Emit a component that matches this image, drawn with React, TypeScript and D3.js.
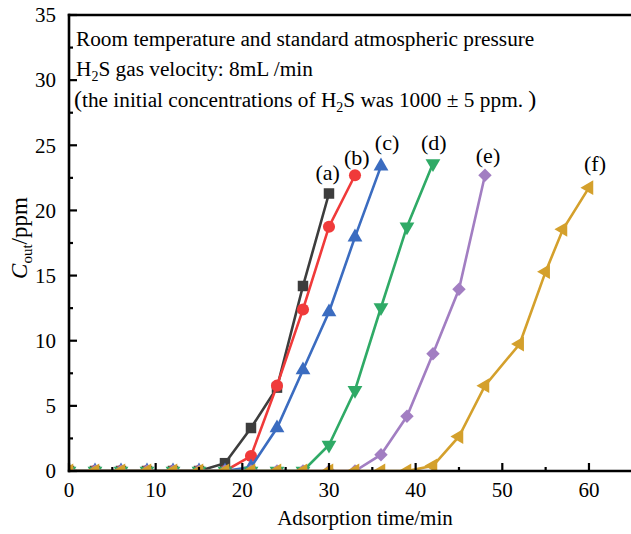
import React from "react";
import * as d3 from "d3";

const W = 631;
const H = 534;

const seriesNames = ["(a)", "(b)", "(c)", "(d)", "(e)", "(f)"];
const seriesColors = ["#3d3d3d", "#f03a3a", "#3b6cc0", "#2faa66", "#a27ec2", "#d4a02c"];
const seriesShapes = ["square", "circle", "up", "down", "diamond", "left"];

const xA = [0, 3, 6, 9, 12, 15, 18, 21, 24, 27, 30];
const yA = [0, 0, 0, 0, 0, 0, 0.6, 3.3, 6.4, 14.2, 21.3];
const xB = [0, 3, 6, 9, 12, 15, 18, 21, 24, 27, 30, 33];
const yB = [0, 0, 0, 0, 0, 0, 0, 1.15, 6.55, 12.4, 18.75, 22.7];
const xC = [0, 3, 6, 9, 12, 15, 18, 21, 24, 27, 30, 33, 36];
const yC = [0, 0, 0, 0, 0, 0, 0, 0.3, 3.3, 7.75, 12.2, 17.95, 23.4];
const xD = [0, 3, 6, 9, 12, 15, 18, 21, 24, 27, 30, 33, 36, 39, 42];
const yD = [0, 0, 0, 0, 0, 0, 0, 0, 0, 0, 2.0, 6.2, 12.55, 18.75, 23.6];
const xE = [0, 3, 6, 9, 12, 15, 18, 21, 24, 27, 30, 33, 36, 39, 42, 45, 48];
const yE = [0, 0, 0, 0, 0, 0, 0, 0, 0, 0, 0, 0, 1.25, 4.2, 9.0, 13.95, 22.7];
const xF = [0, 3, 6, 9, 12, 15, 18, 21, 24, 27, 30, 33, 36, 39, 42, 45, 48, 52, 55, 57, 60];
const yF = [0, 0, 0, 0, 0, 0, 0, 0, 0, 0, 0, 0, 0, 0, 0.4, 2.65, 6.55, 9.75, 15.3, 18.55, 21.75];

const seriesX = [xA, xB, xC, xD, xE, xF];
const seriesY = [yA, yB, yC, yD, yE, yF];

// annotation label anchor positions in data units
const labelX = [29.85, 33.2, 36.7, 42.1, 48.35, 60.7];
const labelY = [22.9, 24.1, 25.2, 25.2, 24.25, 23.6];

const xMajorTicks = [0, 10, 20, 30, 40, 50, 60];
const xMinorTicks = [5, 15, 25, 35, 45, 55];
const yMajorTicks = [0, 5, 10, 15, 20, 25, 30, 35];
const yMinorTicks = [2.5, 7.5, 12.5, 17.5, 22.5, 27.5, 32.5];

const xDomain = [0, 65];
const yDomain = [0, 35];

const FONT = "'Liberation Serif', 'Times New Roman', serif";

function markerPath(shape: string): { d: string; rot: number } {
  if (shape === "square") return { d: d3.symbol(d3.symbolSquare, 110)() as string, rot: 0 };
  if (shape === "circle") return { d: d3.symbol(d3.symbolCircle, 115)() as string, rot: 0 };
  if (shape === "up") return { d: d3.symbol(d3.symbolTriangle, 95)() as string, rot: 0 };
  if (shape === "down") return { d: d3.symbol(d3.symbolTriangle, 95)() as string, rot: 180 };
  if (shape === "diamond") return { d: d3.symbol(d3.symbolSquare, 90)() as string, rot: 45 };
  return { d: d3.symbol(d3.symbolTriangle, 95)() as string, rot: -90 };
}

export default function App() {
  const left = 69;
  const right = 632.3;
  const top = 15;
  const bottom = 471;
  const x = d3.scaleLinear().domain(xDomain).range([left, right]);
  const y = d3.scaleLinear().domain(yDomain).range([bottom, top]);
  const line = d3
    .line<[number, number]>()
    .x((d) => x(d[0]))
    .y((d) => y(d[1]));

  return (
    <svg
      width={W}
      height={H}
      style={{ position: "absolute", left: 0, top: 0, background: "#fff" }}
      fontFamily={FONT}
    >
      <defs>
        <clipPath id="plotclip">
          <rect x={left} y={top} width={right - left} height={bottom - top} />
        </clipPath>
      </defs>
      <rect x={0} y={0} width={W} height={H} fill="#fff" />

      <g clipPath="url(#plotclip)">
        {seriesX.map((xs, i) => {
          const pts: [number, number][] = xs.map((v, j) => [v, seriesY[i][j]]);
          const m = markerPath(seriesShapes[i]);
          return (
            <g key={i}>
              <path d={line(pts) as string} fill="none" stroke={seriesColors[i]} strokeWidth={2.6} />
              {pts.map((p, j) => (
                <path
                  key={j}
                  d={m.d}
                  transform={`translate(${x(p[0])},${y(p[1])}) rotate(${m.rot})`}
                  fill={seriesColors[i]}
                />
              ))}
            </g>
          );
        })}
      </g>

      {/* axes frame */}
      <line x1={left} x2={left} y1={top - 1.2} y2={bottom + 1.2} stroke="#000" strokeWidth={2.6} />
      <line x1={left - 1.2} x2={W} y1={bottom} y2={bottom} stroke="#000" strokeWidth={2.6} />
      <line x1={left - 1.2} x2={W} y1={top} y2={top} stroke="#000" strokeWidth={2.6} />

      {/* x ticks */}
      {xMajorTicks.map((t) => (
        <g key={"xM" + t}>
          <line x1={x(t)} x2={x(t)} y1={bottom} y2={bottom - 8} stroke="#000" strokeWidth={2.2} />
          <text x={x(t)} y={497} fontSize={21} textAnchor="middle" fill="#000">
            {t}
          </text>
        </g>
      ))}
      {xMinorTicks.map((t) => (
        <line key={"xm" + t} x1={x(t)} x2={x(t)} y1={bottom} y2={bottom - 4} stroke="#000" strokeWidth={2.2} />
      ))}

      {/* y ticks */}
      {yMajorTicks.map((t) => (
        <g key={"yM" + t}>
          <line x1={left} x2={left + 8} y1={y(t)} y2={y(t)} stroke="#000" strokeWidth={2.2} />
          <text x={56} y={y(t)} dy="0.35em" fontSize={21} textAnchor="end" fill="#000">
            {t}
          </text>
        </g>
      ))}
      {yMinorTicks.map((t) => (
        <line key={"ym" + t} x1={left} x2={left + 4} y1={y(t)} y2={y(t)} stroke="#000" strokeWidth={2.2} />
      ))}

      {/* axis titles */}
      <text x={365} y={525} fontSize={21} textAnchor="middle" fill="#000">
        Adsorption time/min
      </text>
      <text
        transform={`translate(27, 238) rotate(-90)`}
        fontSize={23}
        textAnchor="middle"
        fill="#000"
      >
        <tspan fontStyle="italic">C</tspan>
        <tspan fontSize={15} dy={5}>out</tspan>
        <tspan dy={-5}>/ppm</tspan>
      </text>

      {/* annotation text */}
      <text x={76} y={46} fontSize={21.3} fill="#000">
        Room temperature and standard atmospheric pressure
      </text>
      <text x={76} y={76} fontSize={21.3} fill="#000">
        H<tspan fontSize={14} dy={5}>2</tspan>
        <tspan dy={-5}>S gas velocity: 8mL /min</tspan>
      </text>
      <text x={74} y={107} fontSize={21.3} fill="#000">
        <tspan fontSize={24}>(</tspan>the initial concentrations of H<tspan fontSize={14} dy={5}>2</tspan>
        <tspan dy={-5}>S was 1000 ± 5 ppm. </tspan>
        <tspan fontSize={24}>)</tspan>
      </text>

      {/* series labels */}
      {seriesNames.map((n, i) => (
        <text
          key={n}
          x={x(labelX[i])}
          y={y(labelY[i])}
          dy="0.35em"
          fontSize={22}
          textAnchor="middle"
          fill="#000"
        >
          {n}
        </text>
      ))}
    </svg>
  );
}
